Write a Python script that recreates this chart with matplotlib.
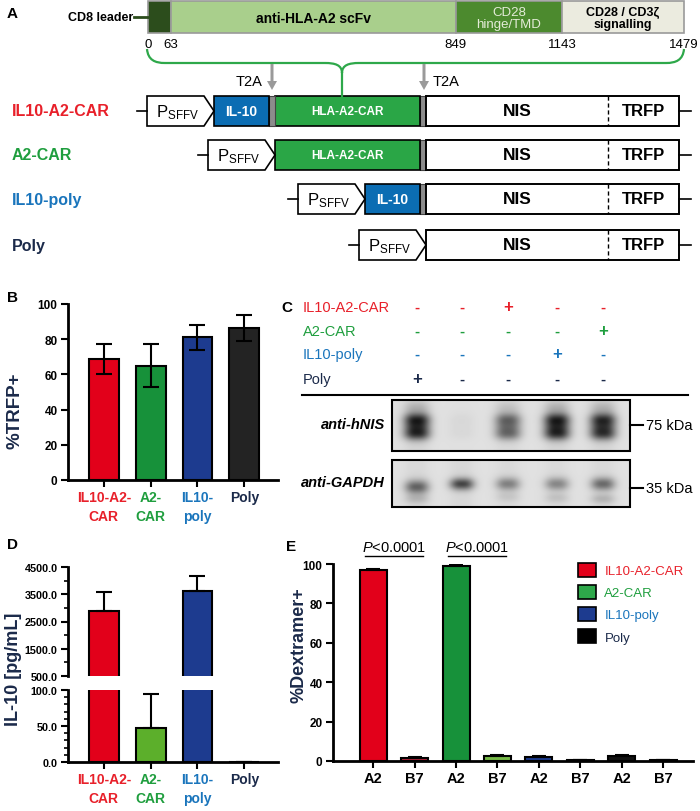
import numpy as np
import matplotlib
matplotlib.use("Agg")
import matplotlib.pyplot as plt
from matplotlib.patches import Rectangle, Polygon, FancyArrow, PathPatch, Patch
from matplotlib.path import Path

plt.rcParams['font.family'] = ['Liberation Sans', 'DejaVu Sans']
plt.rcParams['mathtext.fontset'] = 'custom'
plt.rcParams['mathtext.rm'] = 'Liberation Sans'
plt.rcParams['mathtext.it'] = 'Liberation Sans:italic'
plt.rcParams['mathtext.bf'] = 'Liberation Sans:bold'

# ---- data ----
groups = ["IL10-A2-CAR", "A2-CAR", "IL10-poly", "Poly"]
group_ticks = ["IL10-A2-\nCAR", "A2-\nCAR", "IL10-\npoly", "Poly"]

cds_bounds = [0, 63, 849, 1143, 1479]
cds_names = ["", "anti-HLA-A2 scFv", "CD28\nhinge/TMD", "CD28 / CD3ζ\nsignalling"]
construct_parts = [["IL-10", "HLA-A2-CAR"], ["HLA-A2-CAR"], ["IL-10"], []]

trfp = [69, 65, 81, 86.5]
trfp_err = [8.5, 12.3, 7, 7.5]

il10 = [2900, 47, 3620, 0]
il10_err = [680, 48, 560, 0]

dext_ticks = ["A2", "B7", "A2", "B7", "A2", "B7", "A2", "B7"]
dext = [97, 1.5, 99, 2.5, 2.0, 0.5, 2.3, 0.5]
dext_err = [0.6, 0.4, 0.6, 0.5, 0.4, 0.2, 0.7, 0.2]

# western blot: which construct per lane, band strength per lane
lane_sign = {"IL10-A2-CAR": [0, 0, 1, 0, 0],
             "A2-CAR": [0, 0, 0, 0, 1],
             "IL10-poly": [0, 0, 0, 1, 0],
             "Poly": [1, 0, 0, 0, 0]}
nis_band = [0.95, 0.04, 0.62, 0.95, 0.9]
gapdh_band = [0.62, 0.72, 0.5, 0.48, 0.58]

# ---- style ----
txt_col = ['#e8202a', '#1f9e3e', '#1a75bc', '#1b2a4a']
bar_col = ['#e2001a', '#17913a', '#1d3b8f', '#232323']
d_col = ['#e2001a', '#5caf2b', '#1d3b8f', '#232323']
e_col = ['#e2001a', '#b3243a', '#17913a', '#76b947', '#1d3b8f', '#1d3b8f', '#111111', '#111111']
leg_col = ['#e2001a', '#2ea84a', '#1d3b8f', '#000000']
navy = '#1b2a4a'

fig = plt.figure(figsize=(7, 8.12), dpi=100)
W, H = 700, 812


def add_ax(l, t, r, b):
    return fig.add_axes([l / W, 1 - b / H, (r - l) / W, (b - t) / H])


ax0 = fig.add_axes([0, 0, 1, 1])
ax0.set_xlim(0, W)
ax0.set_ylim(H, 0)
ax0.axis('off')

# panel letters
for L, (x, y) in zip("ABCDE", [(12, 14), (12, 298), (287, 308), (12, 545), (291, 547)]):
    ax0.text(x, y, L, fontsize=11, fontweight='bold', ha='center', va='center')

# ---- A: CAR domain bar ----
bx0, bx1, by0, by1 = 148, 684, 2, 34
seg_col = ['#2c4d1c', '#a9cf8c', '#4c8a2e', '#ebebdf']
seg_txt = ['white', 'black', '#e4ecd8', 'black']
seg_w = ['bold', 'bold', 'normal', 'bold']
seg_fs = [9, 10, 9.5, 9]
sx = lambda p: bx0 + p * (bx1 - bx0) / cds_bounds[-1]
for i in range(4):
    a, b = sx(cds_bounds[i]), sx(cds_bounds[i + 1])
    ax0.add_patch(Rectangle((a, by0), b - a, by1 - by0, fc=seg_col[i], ec='#9a9a9a', lw=1.2))
    if cds_names[i]:
        ax0.text((a + b) / 2, (by0 + by1) / 2 + 1, cds_names[i], ha='center', va='center',
                 fontsize=seg_fs[i], color=seg_txt[i], fontweight=seg_w[i], linespacing=1.1)
for p in cds_bounds:
    ax0.text(sx(p), 45, str(p), ha='center', va='center', fontsize=9.5)
ax0.plot([134, bx0], [18, 18], color='#2c4d1c', lw=2)
ax0.text(133, 18, "CD8 leader", ha='right', va='center', fontsize=9, fontweight='bold')

# brace
cx = 342
verts = [(147, 50), (148, 61), (155, 64), (165, 64), (cx - 17, 64), (cx - 7, 64), (cx, 66), (cx, 74),
         (cx, 66), (cx + 7, 64), (cx + 17, 64), (666, 64), (676, 64), (683, 61), (684, 50)]
codes = [Path.MOVETO, Path.CURVE4, Path.CURVE4, Path.CURVE4, Path.LINETO, Path.CURVE4, Path.CURVE4, Path.CURVE4,
         Path.CURVE4, Path.CURVE4, Path.CURVE4, Path.LINETO, Path.CURVE4, Path.CURVE4, Path.CURVE4]
ax0.add_patch(PathPatch(Path(verts, codes), fc='none', ec='#2ea84a', lw=1.6))
ax0.plot([cx, cx], [74, 97], color='#2ea84a', lw=1.6)

for ax_, ha_, dx in [(272, 'right', -9), (424, 'left', 9)]:
    ax0.add_patch(FancyArrow(ax_, 65, 0, 26, width=3, head_width=10, head_length=9,
                             length_includes_head=True, fc='#9a9a9a', ec='none'))
    ax0.text(ax_ + dx, 82, "T2A", ha=ha_, va='center', fontsize=10.5)

# construct rows
row_top = [97, 141, 185, 231]
rh = 30
part_color = {"IL-10": '#0b6db3', "HLA-A2-CAR": '#2aa646'}
part_width = {"IL-10": 55, "HLA-A2-CAR": 145}
part_fs = {"IL-10": 10, "HLA-A2-CAR": 8.5}
nis0, nis1, dash = 426, 679, 608
for r, name in enumerate(groups):
    t = row_top[r]
    b = t + rh
    m = t + rh / 2
    ax0.text(12, m, name, ha='left', va='center', fontsize=11.5, fontweight='bold', color=txt_col[r])
    x = nis0
    for part in reversed(construct_parts[r]):
        ax0.add_patch(Rectangle((x - 6, t), 6, rh, fc='#8c8c8c', ec='#444444', lw=0.8))
        x -= 6
        w = part_width[part]
        ax0.add_patch(Rectangle((x - w, t), w, rh, fc=part_color[part], ec='black', lw=1.2))
        ax0.text(x - w / 2, m, part, ha='center', va='center', color='white', fontweight='bold',
                 fontsize=part_fs[part])
        x -= w
    x1 = x
    x0 = x1 - 67
    ax0.add_patch(Polygon([(x0, t), (x1 - 10, t), (x1, m), (x1 - 10, b), (x0, b)], closed=True,
                          fc='white', ec='black', lw=1.2))
    ax0.plot([x0 - 10, x0], [m, m], color='black', lw=1.2)
    ax0.text(x0 + 9, m + 1, r'P$_{\mathrm{SFFV}}$', ha='left', va='center', fontsize=12)
    ax0.add_patch(Rectangle((nis0, t), nis1 - nis0, rh, fc='white', ec='black', lw=1.4))
    ax0.plot([dash, dash], [t, b], color='black', lw=1, ls=(0, (3, 2)))
    ax0.text((nis0 + dash) / 2, m, "NIS", ha='center', va='center', fontsize=12.5, fontweight='bold')
    ax0.text((dash + nis1) / 2, m, "TRFP", ha='center', va='center', fontsize=12, fontweight='bold')
    ax0.plot([nis1, nis1 + 12], [m, m], color='black', lw=1.2)

# ---- C: western blot ----
lane_x = [417, 462, 508, 557, 603]
sign_y = [308, 332, 355, 380]
for r, name in enumerate(groups):
    ax0.text(303, sign_y[r], name, ha='left', va='center', fontsize=10.5, color=txt_col[r])
    for lx, s in zip(lane_x, lane_sign[name]):
        ax0.text(lx, sign_y[r], "+" if s else "-", ha='center', va='center', fontsize=12 if s else 11,
                 fontweight='bold', color=txt_col[r])
ax0.plot([302, 688], [396, 396], color='black', lw=1.5)

bl0, bl1 = 392, 630
xs = np.arange(bl0, bl1) + 0.5


def blot(y0, y1, bands, centers, sxw):
    ys = np.arange(y0, y1) + 0.5
    img = np.full((len(ys), len(xs)), 0.88)
    for lx, a, cy in zip(lane_x, bands, centers):
        gx = np.exp(-np.abs((xs - lx) / sxw) ** 2.6)
        gy = cy(ys)
        img -= a * np.outer(gy, gx)
        # faint vertical lane smear
        img -= 0.05 * a * np.outer(np.ones(len(ys)), gx)
    img = np.clip(img, 0.08, 1)
    ax0.imshow(img, cmap='gray', vmin=0, vmax=1, extent=(bl0, bl1, y1, y0), aspect='auto',
               interpolation='bilinear', zorder=1)
    ax0.add_patch(Rectangle((bl0, y0), bl1 - bl0, y1 - y0, fc='none', ec='black', lw=1.5, zorder=2))


nis_prof = lambda ys: np.clip(0.72 * np.exp(-np.abs((ys - 427) / 13) ** 3)
                              + 0.12 * np.exp(-((ys - 420) / 5) ** 2) + 0.15 * np.exp(-((ys - 436) / 5) ** 2)
                              + 0.12 * np.exp(-((ys - 408) / 6) ** 2), 0, 1)
blot(401, 452, nis_band, [nis_prof] * 5, 13)
g_profs = [lambda ys: 0.75 * np.exp(-((ys - 488) / 7) ** 2) + 0.2 * np.exp(-((ys - 500) / 5) ** 2),
           lambda ys: 0.8 * np.exp(-((ys - 485) / 6) ** 2),
           lambda ys: 0.7 * np.exp(-((ys - 485) / 6.5) ** 2) + 0.15 * np.exp(-((ys - 498) / 5) ** 2),
           lambda ys: 0.68 * np.exp(-((ys - 485) / 6.5) ** 2) + 0.2 * np.exp(-((ys - 499) / 5) ** 2),
           lambda ys: 0.75 * np.exp(-((ys - 485) / 6.5) ** 2) + 0.25 * np.exp(-((ys - 500) / 5) ** 2)]
blot(461, 508, gapdh_band, g_profs, 12)
ax0.text(385, 425, "anti-hNIS", ha='right', va='center', fontsize=10.5, fontweight='bold', style='italic')
ax0.text(385, 483, "anti-GAPDH", ha='right', va='center', fontsize=10.5, fontweight='bold', style='italic')
for y, lab in [(426, "75 kDa"), (489, "35 kDa")]:
    ax0.plot([bl1, 643], [y, y], color='black', lw=1.5)
    ax0.text(646, y, lab, ha='left', va='center', fontsize=10.5)


def style_ax(ax, bottom=True):
    for s in ['top', 'right']:
        ax.spines[s].set_visible(False)
    ax.spines['left'].set_linewidth(2)
    ax.spines['bottom'].set_linewidth(2)
    if not bottom:
        ax.spines['bottom'].set_visible(False)
    ax.tick_params(axis='both', which='major', length=5, width=1.5, pad=2.5)
    ax.tick_params(axis='both', which='minor', length=3, width=1.2)


def color_xlabels(ax, fs):
    ax.set_xticks(range(4))
    ax.set_xticklabels(group_ticks, fontsize=fs, fontweight='bold', linespacing=1.45)
    for lab, c in zip(ax.get_xticklabels(), txt_col):
        lab.set_color(c)


# ---- B ----
axB = add_ax(68, 305, 278, 481)
axB.bar(range(4), trfp, width=0.64, color=bar_col, edgecolor='black', linewidth=1.5,
        yerr=trfp_err, capsize=5.5, error_kw=dict(elinewidth=1.5, capthick=1.5))
axB.set_xlim(-0.766, 3.72)
axB.set_ylim(0, 100)
axB.set_yticks(range(0, 101, 20))
axB.set_yticklabels([str(v) for v in range(0, 101, 20)], fontsize=8.5, fontweight='bold')
style_ax(axB)
color_xlabels(axB, 10)
fig.text(15 / W, 1 - 411 / H, "%TRFP+", rotation=90, ha='center', va='center', fontsize=13.5,
         fontweight='bold', color=navy)

# ---- D (broken axis) ----
axDu = add_ax(68, 568, 278, 677)
axDl = add_ax(68, 691, 278, 763)
up_err = [[0] * 4, il10_err]
for ax in (axDu, axDl):
    ax.bar(range(4), il10, width=0.64, color=d_col, edgecolor='black', linewidth=1.5,
           yerr=up_err, capsize=5.5, error_kw=dict(elinewidth=1.5, capthick=1.5))
    ax.set_xlim(-0.766, 3.72)
axDu.set_ylim(500, 4500)
axDu.set_yticks([500, 1500, 2500, 3500, 4500])
axDu.set_yticks([1000, 2000, 3000, 4000], minor=True)
axDu.set_yticklabels(["500.0", "1500.0", "2500.0", "3500.0", "4500.0"], fontsize=7.8, fontweight='bold')
style_ax(axDu, bottom=False)
axDu.set_xticks([])
axDl.set_ylim(0, 100)
axDl.set_yticks([0, 50, 100])
axDl.set_yticks(range(10, 100, 10), minor=True)
axDl.set_yticklabels(["0.0", "50.0", "100.0"], fontsize=7.8, fontweight='bold')
style_ax(axDl)
color_xlabels(axDl, 10)
fig.text(14 / W, 1 - 669 / H, "IL-10 [pg/mL]", rotation=90, ha='center', va='center', fontsize=13,
         fontweight='bold', color=navy)

# ---- E ----
axE = add_ax(333, 565, 693, 762)
axE.bar(range(8), dext, width=0.65, color=e_col, edgecolor='black', linewidth=1.5,
        yerr=[[0] * 8, dext_err], capsize=5, error_kw=dict(elinewidth=1.5, capthick=1.5))
axE.set_xlim(-0.97, 7.72)
axE.set_ylim(0, 100)
axE.set_yticks(range(0, 101, 20))
axE.set_yticklabels([str(v) for v in range(0, 101, 20)], fontsize=8.5, fontweight='bold')
axE.set_xticks(range(8))
axE.set_xticklabels(dext_ticks, fontsize=10.5, fontweight='bold')
style_ax(axE)
for a, b in [(0, 1), (2, 3)]:
    axE.plot([a - 0.2, b + 0.2], [104, 104], color='black', lw=1, clip_on=False)
    axE.text((a + b) / 2, 105, r'$\mathit{P}$<0.0001', ha='center', va='bottom', fontsize=10.5)
fig.text(299 / W, 1 - 645 / H, "%Dextramer+", rotation=90, ha='center', va='center', fontsize=13,
         fontweight='bold', color=navy)
handles = [Patch(fc=c, ec='black', lw=1.2) for c in leg_col]
leg = axE.legend(handles, groups, loc='upper left', bbox_to_anchor=(578 / W, 1 - 564 / H),
                 bbox_transform=fig.transFigure, frameon=False, handlelength=1.4,
                 handleheight=1.2, labelspacing=0.6, handletextpad=0.6, borderpad=0,
                 borderaxespad=0, fontsize=9.5)
for t, c in zip(leg.get_texts(), txt_col):
    t.set_color(c)

fig.savefig("out.png", dpi=100)
